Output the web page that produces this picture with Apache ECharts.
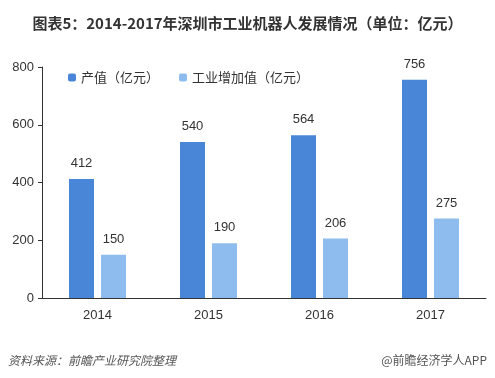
<!DOCTYPE html>
<html>
<head>
<meta charset="utf-8">
<script src="https://cdn.jsdelivr.net/npm/echarts@6/dist/echarts.min.js"></script>
<style>
html, body { margin: 0; padding: 0; background: #fff; }
#main { width: 495px; height: 378px; }
</style>
</head>
<body>
<div id="main"></div>
<script>
// данные графика
const years = ['2014', '2015', '2016', '2017'];
const output = [412, 540, 564, 756];
const addedValue = [150, 190, 206, 275];
const yTicks = [0, 200, 400, 600, 800];

const font = '"Noto Sans CJK SC", "Microsoft YaHei", sans-serif';

let chart = echarts.init(document.getElementById('main'));
chart.setOption({
    textStyle: { fontFamily: font },
    title: {
        text: '图表5：2014-2017年深圳市工业机器人发展情况（单位：亿元）',
        left: 'center',
        top: 11,
        textStyle: { fontSize: 15, fontWeight: 'bold', color: '#333', fontFamily: font }
    },
    legend: {
        left: 63,
        top: 66,
        itemWidth: 8,
        itemHeight: 8,
        itemGap: 20,
        textStyle: { fontSize: 13, color: '#333', fontFamily: font },
        data: ['产值（亿元）', '工业增加值（亿元）']
    },
    grid: { left: 42, right: 9, top: 67, bottom: 80 },
    xAxis: {
        type: 'category',
        data: years,
        axisLine: { lineStyle: { color: '#333' } },
        axisTick: { lineStyle: { color: '#333' }, length: 5 },
        axisLabel: { color: '#333', fontSize: 13, margin: 11, fontFamily: 'Arial, sans-serif' }
    },
    yAxis: {
        type: 'value',
        min: yTicks[0],
        max: yTicks[yTicks.length - 1],
        interval: 200,
        splitLine: { show: false },
        axisLine: { show: true, lineStyle: { color: '#333' } },
        axisTick: { show: true, lineStyle: { color: '#333' }, length: 4 },
        axisLabel: { color: '#333', fontSize: 13, margin: 8, fontFamily: 'Arial, sans-serif' }
    },
    series: [
        {
            name: '产值（亿元）',
            type: 'bar',
            data: output,
            barWidth: 25,
            barGap: '28%',
            itemStyle: { color: '#4a86d8' },
            label: { show: true, position: 'top', distance: 9, color: '#333', fontSize: 13, fontFamily: 'Arial, sans-serif' }
        },
        {
            name: '工业增加值（亿元）',
            type: 'bar',
            data: addedValue,
            barWidth: 25,
            itemStyle: { color: '#8fbcee' },
            label: { show: true, position: 'top', distance: 9, color: '#333', fontSize: 13, fontFamily: 'Arial, sans-serif' }
        }
    ],
    graphic: [
        {
            type: 'text',
            left: 8,
            top: 354,
            style: { text: '资料来源：前瞻产业研究院整理', fill: '#555', font: 'italic 12px ' + font }
        },
        {
            type: 'text',
            right: 8,
            top: 354,
            style: { text: '@前瞻经济学人APP', fill: '#555', font: '12px ' + font }
        }
    ]
});
</script>
</body>
</html>
